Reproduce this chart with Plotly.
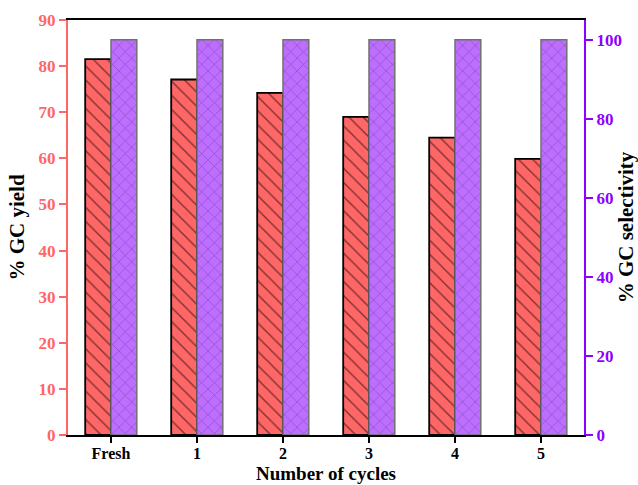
import plotly.graph_objects as go

categories = ["Fresh", "1", "2", "3", "4", "5"]
gc_yield = [81.5, 77.1, 74.2, 69.0, 64.5, 59.9]
gc_selectivity = [100, 100, 100, 100, 100, 100]

RED = "#FF6666"
PURPLE_FILL = "#BD6EFF"
PURPLE_AXIS = "#8F00FF"
FONT = "Liberation Serif"

fig = go.Figure()
fig.add_trace(go.Bar(
    x=categories, y=gc_yield, name="% GC yield",
    width=0.3, offset=-0.3,
    marker=dict(color=RED, line=dict(color="black", width=1.8),
                pattern=dict(shape="\\", fgcolor="black", size=10, solidity=0.14)),
    yaxis="y",
))
fig.add_trace(go.Bar(
    x=categories, y=gc_selectivity, name="% GC selectivity",
    width=0.3, offset=0.0,
    marker=dict(color=PURPLE_FILL, line=dict(color="#707070", width=1.5),
                pattern=dict(shape="x", fgcolor="#5A2E7A", size=9, solidity=0.14)),
    yaxis="y2",
))

fig.update_layout(
    width=638, height=485,
    margin=dict(l=68, r=54, t=20, b=50),
    plot_bgcolor="white", paper_bgcolor="white",
    showlegend=False,
    barmode="overlay",
    font=dict(family=FONT, color="black"),
    xaxis=dict(
        type="category", range=[-0.5, 5.5], automargin=False,
        showline=True, linecolor="black", linewidth=2, mirror=True,
        ticks="outside", ticklen=6, tickwidth=2, tickcolor="black",
        ticklabelstandoff=-3,
        tickfont=dict(family=FONT, size=16, color="black", weight="bold"),
        showgrid=False,
    ),
    yaxis=dict(
        range=[0, 90], dtick=10, automargin=False,
        showline=True, linecolor=RED, linewidth=2,
        ticks="outside", ticklen=7, tickwidth=2, tickcolor=RED,
        tickfont=dict(family=FONT, size=17, color=RED, weight="bold"),
        title=dict(text="<b>% GC yield</b>", font=dict(family=FONT, size=21, color="black"), standoff=8),
        showgrid=False, zeroline=False,
    ),
    yaxis2=dict(
        range=[0, 105], dtick=20, overlaying="y", side="right", automargin=False,
        showline=True, linecolor=PURPLE_AXIS, linewidth=2,
        ticks="outside", ticklen=7, tickwidth=2, tickcolor=PURPLE_AXIS,
        tickfont=dict(family=FONT, size=17, color=PURPLE_AXIS, weight="bold"),
        title=dict(text="<b>% GC selectivity</b>", font=dict(family=FONT, size=21, color="black"), standoff=2),
        showgrid=False, zeroline=False,
    ),
    annotations=[dict(
        text="<b>Number of cycles</b>", xref="paper", yref="paper",
        x=0.5, y=-0.1205, xanchor="center", yanchor="bottom", showarrow=False,
        borderpad=0,
        font=dict(family=FONT, size=19, color="black"),
    )],
)

fig.write_html("out.html")
